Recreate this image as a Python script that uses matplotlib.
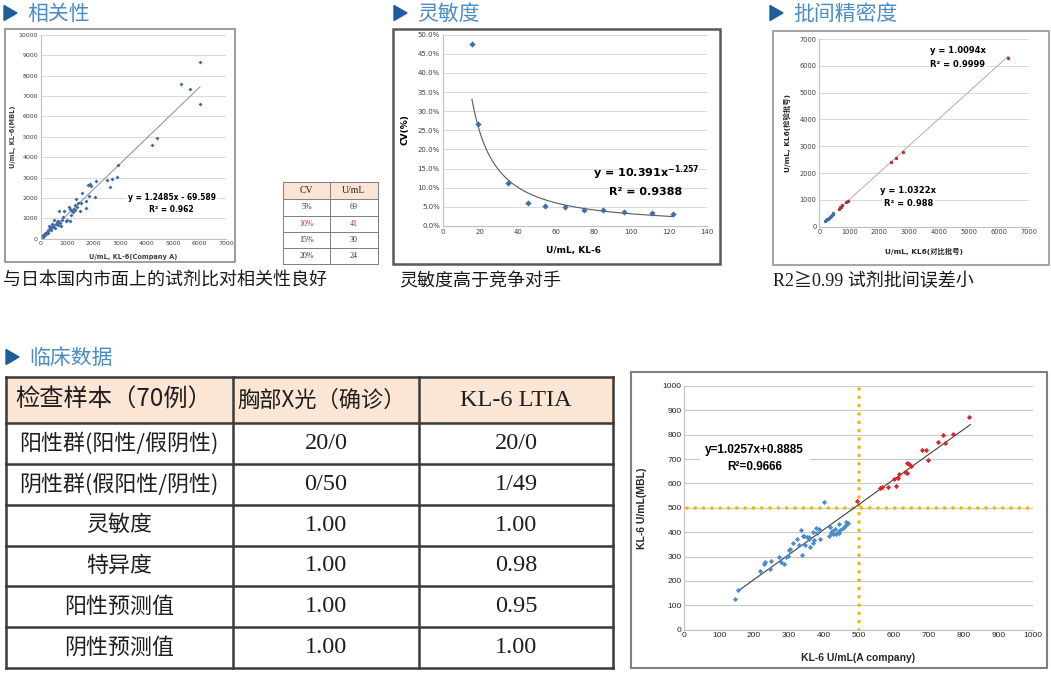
import matplotlib
matplotlib.use("Agg")
import matplotlib.pyplot as plt
from matplotlib.patches import Rectangle, Polygon
import numpy as np

plt.rcParams["font.family"] = ["DejaVu Sans", "Noto Sans CJK SC"]
plt.rcParams["axes.unicode_minus"] = False

W, H = 1051, 676

# 相关性: Company A vs MBL
corr_a = [76, 101, 130, 164, 190, 227, 260, 290, 315, 353, 378, 400, 416, 453, 480,
          504, 542, 560, 605, 640, 668, 706, 730, 760, 818, 856, 880, 956, 982, 1058,
          1107, 1108, 1146, 1196, 1230, 1250, 1285, 1310, 1335, 1385, 1423, 1498, 1511,
          1572, 1700, 1700, 1776, 1836, 1863, 1906, 2040, 2089, 2516, 2618, 2694, 2894,
          2932, 4194, 4408, 5302, 5642, 6020, 6020]
corr_mbl = [98, 163, 120, 261, 230, 343, 300, 425, 621, 507, 425, 560, 719, 588, 650,
            915, 539, 700, 833, 880, 670, 1373, 752, 640, 915, 1046, 1373, 867, 915, 1536,
            882, 1438, 1160, 1356, 1300, 1480, 1634, 1420, 1944, 1569, 1732, 1373, 1765,
            2225, 1863, 1490, 2614, 2093, 2667, 2563, 2029, 2828, 2877, 2549, 2912, 3010,
            3613, 4592, 4935, 7582, 7320, 8676, 6618]
corr_fit = (1.2485, -69.589)

# 灵敏度: CV vs concentration
cv_conc = [15.5, 18.5, 34.8, 45.4, 54.5, 64.8, 75, 85, 96.3, 110.8, 122]
cv_pct = [47.5, 26.6, 11.3, 5.9, 5.1, 4.9, 4.1, 4.1, 3.7, 3.5, 3.1]
cv_fit = (10.391, -1.257)

cv_tbl_cv = ["5%", "10%", "15%", "20%"]
cv_tbl_u = ["69", "41", "30", "24"]

# 批间精密度
batch_blue_x = [190, 230, 260, 290, 320, 350, 380, 410, 440, 470]
batch_blue_y = [220, 245, 275, 305, 335, 365, 395, 425, 460, 500]
batch_red_x = [640, 690, 720, 750, 900, 960, 2390, 2540, 2790, 6300]
batch_red_y = [660, 720, 750, 800, 920, 950, 2410, 2550, 2770, 6280]

# 临床数据 table
tbl_head = ["检查样本（70例）", "胸部X光（确诊）", "KL-6 LTIA"]
tbl_rows = ["阳性群(阳性/假阴性)", "阴性群(假阳性/阴性)", "灵敏度", "特异度", "阳性预测值", "阴性预测值"]
tbl_xray = ["20/0", "0/50", "1.00", "1.00", "1.00", "1.00"]
tbl_ltia = ["20/0", "1/49", "1.00", "0.98", "0.95", "1.00"]

# 临床数据 scatter
clin_blue_x = [146, 155, 216, 229, 231, 245, 248, 271, 276, 286, 291, 296, 300, 303, 311,
               322, 328, 334, 337, 339, 342, 345, 351, 356, 358, 360, 368, 370, 372, 377,
               381, 385, 389, 401, 414, 417, 420, 424, 427, 432, 436, 440, 443, 446, 444,
               455, 460, 462, 465, 470]
clin_blue_y = [127, 162, 242, 268, 277, 248, 283, 300, 278, 270, 300, 302, 327, 333, 354,
               371, 346, 408, 306, 386, 384, 348, 381, 374, 380, 338, 402, 356, 367, 416,
               395, 414, 374, 522, 385, 423, 398, 404, 394, 414, 393, 400, 398, 410, 434,
               418, 426, 443, 434, 437]
clin_red_x = [494, 561, 567, 585, 600, 606, 611, 614, 633, 638, 638, 645, 650, 681, 692,
              697, 727, 741, 748, 770, 817]
clin_red_y = [529, 580, 584, 584, 617, 589, 624, 639, 647, 643, 685, 678, 673, 739, 737,
              697, 770, 800, 766, 803, 874]
clin_fit = (1.0257, 0.8885)
cutoff = 500

fig = plt.figure(figsize=(W / 100, H / 100), dpi=100)
bg = fig.add_axes([0, 0, 1, 1])
bg.set_xlim(0, W)
bg.set_ylim(H, 0)
bg.axis("off")


def place(x0, y0, x1, y1):
    return fig.add_axes([x0 / W, 1 - y1 / H, (x1 - x0) / W, (y1 - y0) / H])


def frame(x0, y0, x1, y1, color, lw):
    bg.add_patch(Rectangle((x0, y0), x1 - x0, y1 - y0, fill=False, ec=color, lw=lw))


def section(x, y, title):
    bg.add_patch(Polygon([(x, y - 7.5), (x, y + 7.5), (x + 13, y)], color="#1f5c9e"))
    bg.text(x + 23, y + 1, title, fontsize=15, color="#4a8cc4", va="center",
            family="Noto Sans CJK SC")


def excel_axes(ax, fs, color="#404040"):
    for s in ("top", "right"):
        ax.spines[s].set_visible(False)
    for s in ("left", "bottom"):
        ax.spines[s].set_color("#bfbfbf")
        ax.spines[s].set_linewidth(0.8)
    ax.tick_params(length=0, labelsize=fs, colors=color, pad=2)
    ax.grid(axis="y", color="#d9d9d9", lw=0.7)
    ax.set_axisbelow(True)
    ax.set_facecolor("none")


white = dict(facecolor="white", edgecolor="none", pad=1)

# ---------------- 相关性 ----------------
section(4, 13, "相关性")
frame(5, 29, 235, 262, "#8c8c8c", 1.2)
ax1 = place(40.7, 34.7, 226, 238.7)
excel_axes(ax1, 4.5)
ax1.scatter(corr_a, corr_mbl, marker="D", s=4, color="#3a6aa5", lw=0, zorder=3)
xs = np.array([min(corr_a), max(corr_a)])
ax1.plot(xs, corr_fit[0] * xs + corr_fit[1], color="#8c8c8c", lw=0.7, zorder=2)
ax1.set_xlim(0, 7000)
ax1.set_ylim(0, 10000)
ax1.set_xticks(range(0, 7001, 1000))
ax1.set_yticks(range(0, 10001, 1000))
ax1.text(4960, 2044, "y = 1.2485x - 69.589", fontsize=5.5, fontweight="bold",
         ha="center", va="center", bbox=white, zorder=4)
ax1.text(4920, 1407, "R² = 0.962", fontsize=5.5, fontweight="bold",
         ha="center", va="center", bbox=white, zorder=4)
bg.text(133, 257, "U/mL, KL-6(Company A)", fontsize=4.8, fontweight="bold",
        ha="center", va="center", color="#404040")
bg.text(13, 137, "U/mL, KL-6(MBL)", fontsize=4.8, fontweight="bold", rotation=90,
        ha="center", va="center", color="#404040")
bg.text(3, 281, "与日本国内市面上的试剂比对相关性良好", fontsize=13, va="center",
        color="#1a1a1a", family="Noto Sans CJK SC")

# small CV table
tx = [283.3, 330, 378]
ty = [181.7, 199.3, 215.5, 231.7, 248, 264]
bg.add_patch(Rectangle((tx[0], ty[0]), tx[2] - tx[0], ty[1] - ty[0], color="#fbe4d5"))
for yy in ty:
    bg.plot([tx[0], tx[2]], [yy, yy], color="#7f7f7f", lw=0.7)
for xx in tx:
    bg.plot([xx, xx], [ty[0], ty[-1]], color="#7f7f7f", lw=0.7)
for j, head in enumerate(["CV", "U/mL"]):
    bg.text((tx[j] + tx[j + 1]) / 2, (ty[0] + ty[1]) / 2, head, fontsize=7,
            ha="center", va="center", family="Liberation Serif", color="#222222")
for i, (c, u) in enumerate(zip(cv_tbl_cv, cv_tbl_u)):
    col = "#b03030" if c == "10%" else "#333333"
    yc = (ty[i + 1] + ty[i + 2]) / 2
    bg.text((tx[0] + tx[1]) / 2, yc, c, fontsize=5.8, ha="center", va="center",
            family="Liberation Serif", color=col)
    bg.text((tx[1] + tx[2]) / 2, yc, u, fontsize=5.8, ha="center", va="center",
            family="Liberation Serif", color=col)

# ---------------- 灵敏度 ----------------
section(394, 13, "灵敏度")
frame(393, 29, 720, 264, "#595959", 1.8)
ax2 = place(442.7, 34.7, 706.7, 226)
excel_axes(ax2, 5)
ax2.scatter(cv_conc, cv_pct, marker="D", s=10, color="#3f6ea8", lw=0, zorder=3)
xf = np.linspace(min(cv_conc), max(cv_conc), 200)
ax2.plot(xf, 100 * cv_fit[0] * xf ** cv_fit[1], color="#595959", lw=0.8, zorder=2)
ax2.set_xlim(0, 140)
ax2.set_ylim(0, 50)
ax2.set_xticks(range(0, 141, 20))
yt = np.arange(0, 50.1, 5)
ax2.set_yticks(yt)
ax2.set_yticklabels([f"{v:.1f}%" for v in yt])
ax2.text(107.8, 13.85, r"y = 10.391x$^{\mathbf{-1.257}}$", fontsize=8, fontweight="bold",
         ha="center", va="center")
ax2.text(107.5, 8.9, "R² = 0.9388", fontsize=8, fontweight="bold",
         ha="center", va="center")
bg.text(574, 251, "U/mL, KL-6", fontsize=6.5, fontweight="bold", ha="center", va="center")
bg.text(405, 130, "CV(%)", fontsize=6.5, fontweight="bold", rotation=90,
        ha="center", va="center")
bg.text(399, 281, "灵敏度高于竞争对手", fontsize=13, va="center", color="#1a1a1a",
        family="Noto Sans CJK SC")

# ---------------- 批间精密度 ----------------
section(770, 13, "批间精密度")
frame(772.7, 30.7, 1049, 265, "#a6a6a6", 1.5)
ax3 = place(819.3, 39, 1029.3, 226.7)
excel_axes(ax3, 4.8)
rx = np.array([min(batch_red_x), max(batch_red_x)])
ax3.plot(rx, 1.0094 * rx, color="#c9a3a3", lw=0.7, zorder=2)
bx = np.array([min(batch_blue_x), max(batch_blue_x)])
ax3.plot(bx, 1.0322 * bx, color="#9fb6d6", lw=0.7, zorder=2)
ax3.scatter(batch_blue_x, batch_blue_y, s=6, color="#3d6eb0", lw=0, zorder=3)
ax3.scatter(batch_red_x, batch_red_y, s=6, color="#a83434", lw=0, zorder=3)
ax3.set_xlim(0, 7000)
ax3.set_ylim(0, 7000)
ax3.set_xticks(range(0, 7001, 1000))
ax3.set_yticks(range(0, 7001, 1000))
ax3.text(4623, 6553, "y = 1.0094x", fontsize=6, fontweight="bold", ha="center",
         va="center", bbox=white, zorder=4)
ax3.text(4623, 6031, "R² = 0.9999", fontsize=6, fontweight="bold", ha="center",
         va="center", bbox=white, zorder=4)
ax3.text(2973, 1332, "y = 1.0322x", fontsize=6, fontweight="bold", ha="center",
         va="center", bbox=white, zorder=4)
ax3.text(2973, 847, "R² = 0.988", fontsize=6, fontweight="bold", ha="center",
         va="center", bbox=white, zorder=4)
bg.text(924, 251, "U/mL, KL6(对比批号)", fontsize=5.3, fontweight="bold",
        ha="center", va="center", color="#262626")
bg.text(787, 133, "U/mL, KL6(检验批号)", fontsize=5.3, fontweight="bold", rotation=90,
        ha="center", va="center", color="#262626")
bg.text(773, 281, "R2≧0.99 试剂批间误差小", fontsize=13, va="center", color="#1a1a1a",
        family=["Liberation Serif", "Noto Sans CJK SC"])

# ---------------- 临床数据 table ----------------
section(6, 357, "临床数据")
cx = [6, 233, 419, 613]
ry = [377, 423] + [423 + (668 - 423) * k / 6 for k in range(1, 7)]
bg.add_patch(Rectangle((cx[0], ry[0]), cx[-1] - cx[0], ry[1] - ry[0], color="#fbe5d5"))
for yy in ry:
    bg.plot([cx[0], cx[-1]], [yy, yy], color="#3a3a3a", lw=1.8, solid_capstyle="projecting")
for xx in cx:
    bg.plot([xx, xx], [ry[0], ry[-1]], color="#3a3a3a", lw=1.8, solid_capstyle="projecting")
hy = (ry[0] + ry[1]) / 2
bg.text(114, hy, tbl_head[0], fontsize=17.5, ha="center", va="center", color="#1e1e1e",
        family="Noto Sans CJK SC")
bg.text(322, hy, tbl_head[1], fontsize=16, ha="center", va="center", color="#1e1e1e",
        family="Noto Sans CJK SC")
bg.text(516, hy, tbl_head[2], fontsize=17.5, ha="center", va="center", color="#1e1e1e",
        family="Liberation Serif")
for i, (name, a, b) in enumerate(zip(tbl_rows, tbl_xray, tbl_ltia)):
    yc = (ry[i + 1] + ry[i + 2]) / 2
    bg.text(119, yc, name, fontsize=15.8, ha="center", va="center", color="#1e1e1e",
            family="Noto Sans CJK SC")
    bg.text(326, yc, a, fontsize=17.5, ha="center", va="center", color="#1e1e1e",
            family="Liberation Serif")
    bg.text(516, yc, b, fontsize=17.5, ha="center", va="center", color="#1e1e1e",
            family="Liberation Serif")

# ---------------- 临床数据 scatter ----------------
frame(631, 372, 1047, 668, "#808080", 1.5)
ax4 = place(684.3, 386, 1033.3, 629.7)
excel_axes(ax4, 6, color="#262626")
ax4.grid(axis="y", color="#c8c8c8", lw=0.8)
dots = dict(color="#f2b600", lw=2.6, linestyle=(0, (0.001, 2.3)), dash_capstyle="round",
            zorder=2)
ax4.plot([8, 1000], [cutoff, cutoff], **dots)
ax4.plot([cutoff, cutoff], [0, 990], **dots)
fx = np.array([155, 820])
ax4.plot(fx, clin_fit[0] * fx + clin_fit[1], color="#404040", lw=0.8, zorder=3)
ax4.scatter(clin_blue_x, clin_blue_y, marker="D", s=7, color="#4a8ccc", lw=0, zorder=4)
ax4.scatter(clin_red_x, clin_red_y, marker="D", s=7, color="#e02424", lw=0, zorder=4)
ax4.set_xlim(0, 1000)
ax4.set_ylim(0, 1000)
ax4.set_xticks(range(0, 1001, 100))
ax4.set_yticks(range(0, 1001, 100))
for lbl in ax4.get_xticklabels() + ax4.get_yticklabels():
    lbl.set_fontfamily("Liberation Sans")
ax4.text(202, 737, "y=1.0257x+0.8885", fontsize=8.5, fontweight="bold", ha="center",
         va="center", family="Liberation Sans",
         bbox=dict(facecolor="white", edgecolor="none", pad=4), zorder=5)
ax4.text(202, 669, "R²=0.9666", fontsize=8.5, fontweight="bold", ha="center",
         va="center", family="Liberation Sans", zorder=5)
bg.text(858, 658, "KL-6 U/mL(A company)", fontsize=7.5, fontweight="bold",
        ha="center", va="center", family="Liberation Sans", color="#262626")
bg.text(642, 508, "KL-6 U/mL(MBL)", fontsize=7.5, fontweight="bold", rotation=90,
        ha="center", va="center", family="Liberation Sans", color="#262626")

fig.savefig("out.png", dpi=100)
